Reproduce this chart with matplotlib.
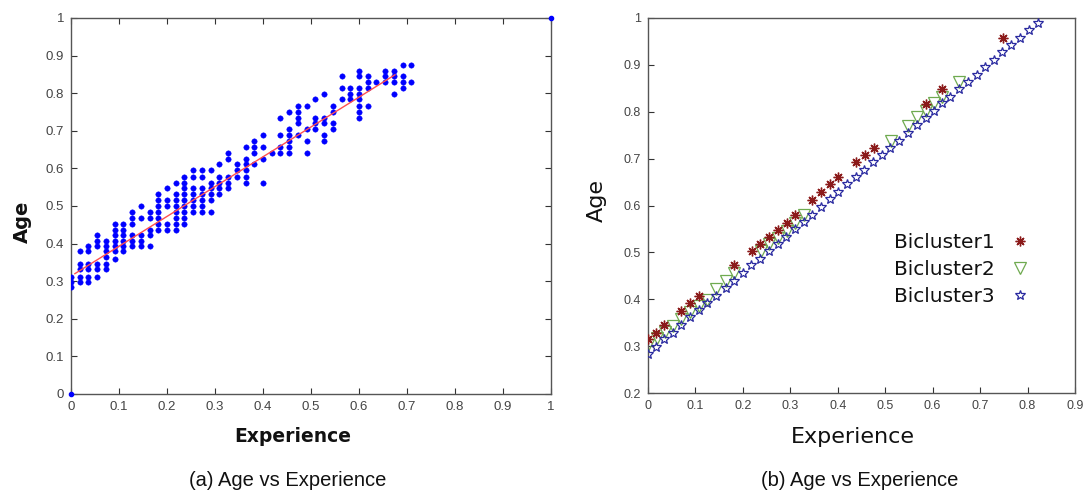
import matplotlib
matplotlib.use("Agg")
import matplotlib.pyplot as plt

# ---------------- Data: panel (a) ----------------
exp_cols = [0.0, 0.018, 0.036, 0.054, 0.073, 0.091, 0.109, 0.127, 0.145, 0.164,
            0.182, 0.2, 0.218, 0.236, 0.255, 0.273, 0.291, 0.309, 0.327, 0.345,
            0.364, 0.382, 0.4, 0.418, 0.436, 0.455, 0.473, 0.491, 0.509, 0.527,
            0.545, 0.564, 0.582, 0.6, 0.618, 0.636, 0.655, 0.673, 0.691, 0.709]
age_by_col = [
    [0.311, 0.298, 0.285],
    [0.379, 0.347, 0.333, 0.311, 0.298],
    [0.393, 0.379, 0.347, 0.333, 0.311, 0.298],
    [0.424, 0.408, 0.393, 0.347, 0.333, 0.311],
    [0.408, 0.393, 0.379, 0.365, 0.347, 0.333],
    [0.452, 0.437, 0.424, 0.408, 0.393, 0.379, 0.359],
    [0.452, 0.437, 0.424, 0.408, 0.393, 0.379],
    [0.483, 0.468, 0.452, 0.424, 0.408, 0.393],
    [0.5, 0.468, 0.424, 0.408, 0.393],
    [0.483, 0.468, 0.437, 0.424, 0.393],
    [0.531, 0.515, 0.5, 0.483, 0.468, 0.452, 0.437],
    [0.547, 0.515, 0.5, 0.452, 0.437],
    [0.562, 0.531, 0.515, 0.5, 0.483, 0.468, 0.452, 0.437],
    [0.578, 0.562, 0.547, 0.531, 0.515, 0.5, 0.483, 0.468, 0.452],
    [0.595, 0.578, 0.547, 0.531, 0.515, 0.5, 0.484],
    [0.595, 0.578, 0.547, 0.531, 0.515, 0.5, 0.484],
    [0.595, 0.562, 0.547, 0.531, 0.515, 0.484],
    [0.611, 0.578, 0.562, 0.547, 0.531],
    [0.642, 0.626, 0.578, 0.562, 0.547],
    [0.611, 0.595, 0.578],
    [0.658, 0.626, 0.611, 0.595, 0.578, 0.562],
    [0.673, 0.658, 0.642, 0.611],
    [0.689, 0.658, 0.626, 0.562],
    [0.642],
    [0.735, 0.689, 0.658, 0.642],
    [0.751, 0.704, 0.689, 0.673, 0.658, 0.642],
    [0.766, 0.751, 0.735, 0.72, 0.689],
    [0.766, 0.704, 0.673, 0.642],
    [0.784, 0.735, 0.72, 0.704],
    [0.797, 0.735, 0.72, 0.689, 0.673],
    [0.766, 0.751, 0.72, 0.704],
    [0.845, 0.813, 0.784],
    [0.813, 0.797, 0.784],
    [0.86, 0.845, 0.813, 0.797, 0.784, 0.766, 0.751, 0.735],
    [0.845, 0.829, 0.813, 0.766],
    [0.829],
    [0.86, 0.845, 0.829],
    [0.86, 0.845, 0.829, 0.797],
    [0.876, 0.845, 0.829, 0.813],
    [0.876, 0.829],
]
corner_exp = [0.0, 1.0]
corner_age = [0.0, 1.0]
fit_exp = [0.008, 0.675]
fit_age = [0.32, 0.849]

# ---------------- Data: panel (b) ----------------
b1_exp = [0.0, 0.016, 0.034, 0.070, 0.088, 0.107, 0.181, 0.219, 0.237, 0.256,
          0.274, 0.293, 0.31, 0.345, 0.364, 0.383, 0.401, 0.439, 0.458, 0.476,
          0.585, 0.62, 0.749]
b1_age = [0.315, 0.329, 0.345, 0.376, 0.393, 0.406, 0.473, 0.503, 0.518, 0.533,
          0.548, 0.563, 0.58, 0.612, 0.629, 0.645, 0.661, 0.692, 0.708, 0.722,
          0.817, 0.849, 0.957]
b2_exp = [0.0, 0.018, 0.035, 0.053, 0.07, 0.088, 0.107, 0.124, 0.144, 0.164,
          0.181, 0.239, 0.256, 0.274, 0.293, 0.31, 0.328, 0.512, 0.549, 0.566,
          0.585, 0.602, 0.62, 0.656]
b2_age = [0.303, 0.318, 0.331, 0.344, 0.358, 0.372, 0.386, 0.399, 0.422, 0.438,
          0.455, 0.503, 0.517, 0.531, 0.545, 0.563, 0.579, 0.738, 0.77, 0.788,
          0.802, 0.818, 0.832, 0.864]
b3_exp = [0.0, 0.016, 0.034, 0.053, 0.07, 0.088, 0.107, 0.124, 0.144, 0.164,
          0.181, 0.2, 0.218, 0.237, 0.254, 0.274, 0.291, 0.31, 0.328, 0.345,
          0.364, 0.383, 0.401, 0.42, 0.439, 0.456, 0.475, 0.493, 0.511, 0.53,
          0.547, 0.566, 0.585, 0.602, 0.62, 0.637, 0.656, 0.675, 0.693, 0.711,
          0.73, 0.747, 0.766, 0.784, 0.802, 0.821]
b3_age = [0.284, 0.299, 0.315, 0.329, 0.346, 0.362, 0.378, 0.393, 0.408, 0.425,
          0.44, 0.455, 0.473, 0.486, 0.503, 0.517, 0.533, 0.549, 0.565, 0.579,
          0.597, 0.613, 0.629, 0.645, 0.661, 0.676, 0.692, 0.708, 0.722, 0.738,
          0.755, 0.771, 0.787, 0.801, 0.818, 0.832, 0.849, 0.863, 0.879, 0.895,
          0.911, 0.927, 0.942, 0.958, 0.974, 0.99]
legend_labels = ["Bicluster1", "Bicluster2", "Bicluster3"]

ticks_a = [0, 0.1, 0.2, 0.3, 0.4, 0.5, 0.6, 0.7, 0.8, 0.9, 1]
ticklabels_a = ["0", "0.1", "0.2", "0.3", "0.4", "0.5", "0.6", "0.7", "0.8", "0.9", "1"]
xticks_b = [0, 0.1, 0.2, 0.3, 0.4, 0.5, 0.6, 0.7, 0.8, 0.9]
xticklabels_b = ["0", "0.1", "0.2", "0.3", "0.4", "0.5", "0.6", "0.7", "0.8", "0.9"]
yticks_b = [0.2, 0.3, 0.4, 0.5, 0.6, 0.7, 0.8, 0.9, 1]
yticklabels_b = ["0.2", "0.3", "0.4", "0.5", "0.6", "0.7", "0.8", "0.9", "1"]

W, H = 1085, 491
fig = plt.figure(figsize=(W / 100, H / 100), dpi=100)
fig.patch.set_facecolor("white")

spine_col = "#555555"
tick_col = "#444444"

# ---------------- Panel (a) ----------------
axa = fig.add_axes([71 / W, 1 - 394 / H, 480 / W, 376 / H])
pts_x, pts_y = [], []
for xv, ys in zip(exp_cols, age_by_col):
    for yv in ys:
        pts_x.append(xv)
        pts_y.append(yv)
axa.plot(pts_x, pts_y, linestyle="none", marker="o", ms=3.9,
         mfc="#0000ff", mec="#0000ff", mew=0.3, zorder=3)
axa.plot(corner_exp, corner_age, linestyle="none", marker="o", ms=3,
         mfc="#0000ff", mec="#0000ff", clip_on=False, zorder=4)
axa.plot(fit_exp, fit_age, color="#ff5050", lw=1.0, zorder=4)
axa.set_xlim(0, 1)
axa.set_ylim(0, 1)
axa.set_xticks(ticks_a)
axa.set_xticklabels(ticklabels_a)
axa.set_yticks(ticks_a)
axa.set_yticklabels(ticklabels_a)
axa.tick_params(direction="in", top=True, right=True, length=4, width=0.8,
                color="#333333", labelcolor=tick_col, labelsize=9.5, pad=5)
for lab in axa.get_xticklabels() + axa.get_yticklabels():
    lab.set_fontfamily("Liberation Sans")
for s in axa.spines.values():
    s.set_color(spine_col)
    s.set_linewidth(1.0)

# ---------------- Panel (b) ----------------
axb = fig.add_axes([648 / W, 1 - 393 / H, 427 / W, 375 / H])
axb.plot(b1_exp, b1_age, linestyle="none", marker=(8, 2, 0), ms=7,
         mec="#8b1a1a", mew=1.0, label=legend_labels[0], zorder=4)
axb.plot(b2_exp, b2_age, linestyle="none", marker="v", ms=8, mfc="none",
         mec="#6faa50", mew=0.9, label=legend_labels[1], zorder=3)
axb.plot(b3_exp, b3_age, linestyle="none", marker="*", ms=7, mfc="none",
         mec="#2a2aa0", mew=0.9, label=legend_labels[2], zorder=3)
axb.set_xlim(0, 0.9)
axb.set_ylim(0.2, 1)
axb.set_xticks(xticks_b)
axb.set_xticklabels(xticklabels_b)
axb.set_yticks(yticks_b)
axb.set_yticklabels(yticklabels_b)
axb.tick_params(direction="in", top=False, right=False, length=4, width=0.8,
                color="#333333", labelcolor=tick_col, labelsize=9, pad=5)
for lab in axb.get_xticklabels() + axb.get_yticklabels():
    lab.set_fontfamily("Liberation Sans")
for s in axb.spines.values():
    s.set_color(spine_col)
    s.set_linewidth(1.0)

leg = axb.legend(loc="center left", bbox_to_anchor=(0.575, 0.33),
                 frameon=False, markerfirst=False, fontsize=14.5,
                 handlelength=1.0, handletextpad=0.8, labelspacing=0.4,
                 borderpad=0, borderaxespad=0)
for t in leg.get_texts():
    t.set_color("#111111")

# ---------------- Labels ----------------
fig.text(22 / W, 1 - 222 / H, "Age", rotation=90, ha="center", va="center",
         fontsize=14, fontweight="bold", color="#111111")
fig.text(293 / W, 1 - 437 / H, "Experience", ha="center", va="center",
         fontsize=13.5, fontweight="bold", color="#111111")
fig.text(597 / W, 1 - 200 / H, "Age", rotation=90, ha="center", va="center",
         fontsize=16, color="#111111")
fig.text(853 / W, 1 - 437 / H, "Experience", ha="center", va="center",
         fontsize=16, color="#111111")
fig.text(288 / W, 1 - 480 / H, "(a) Age vs Experience", ha="center", va="center",
         fontsize=14.5, family="Liberation Sans", color="#111111")
fig.text(860 / W, 1 - 480 / H, "(b) Age vs Experience", ha="center", va="center",
         fontsize=14.5, family="Liberation Sans", color="#111111")

fig.savefig("out.png", dpi=100, facecolor="white")
